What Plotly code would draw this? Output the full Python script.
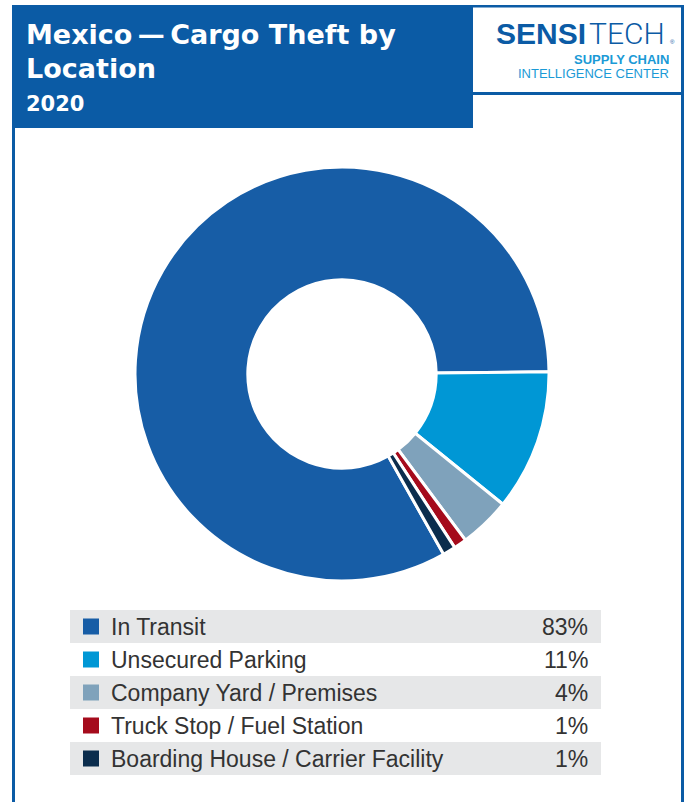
import plotly.graph_objects as go

# ---- data ----
categories = ["In Transit", "Unsecured Parking", "Company Yard / Premises",
              "Truck Stop / Fuel Station", "Boarding House / Carrier Facility"]
values = [83, 11, 4, 1, 1]
pct_labels = ["83%", "11%", "4%", "1%", "1%"]
colors = ["#175da6", "#0097d5", "#7fa2bb", "#a50b1c", "#0b2d4d"]

W, H = 688, 802
BLUE = "#0b5ba5"
CYAN = "#1b9ad6"


def px(x):
    return x / W


def py(y):
    return 1 - y / H


# donut geometry (pixels)
cx, cy, R = 342, 374, 207

fig = go.Figure()
fig.add_trace(go.Pie(
    labels=categories, values=values, sort=False, direction="clockwise",
    rotation=150.6, hole=0.455,
    marker=dict(colors=colors, line=dict(color="white", width=3)),
    textinfo="none", showlegend=False,
    domain=dict(x=[px(cx - R), px(cx + R)], y=[py(cy + R), py(cy - R)]),
))

shapes = []


def rect(x0, y0, x1, y1, color, layer="above"):
    shapes.append(dict(type="rect", xref="paper", yref="paper", x0=px(x0), x1=px(x1),
                       y0=py(y1), y1=py(y0), fillcolor=color, line=dict(width=0), layer=layer))


# title box and frame
rect(12, 5, 473, 128, BLUE, "below")
rect(12, 5, 15, 802, BLUE)
rect(681, 5, 684, 802, BLUE)
rect(473, 5, 684, 7.5, BLUE)
rect(473, 92, 684, 95, BLUE)

annotations = []


def text(x, y, s, size, color, anchor="left", family="Liberation Sans, Arial",
         weight=None, height=None):
    f = dict(family=family, size=size, color=color)
    if weight is not None:
        f["weight"] = weight
    a = dict(xref="paper", yref="paper", x=px(x), y=py(y), xanchor=anchor,
             yanchor="middle", showarrow=False, text=s, font=f)
    if height is not None:
        a["height"] = height
    annotations.append(a)


# title texts
TF = "DejaVu Sans"
text(24, 34, "<b>Mexico\u2009\u2014\u2009Cargo Theft by</b>", 27, "white", family=TF)
text(24, 68, "<b>Location</b>", 27, "white", family=TF)
text(24, 104, "<b>2020</b>", 21, "white", family=TF)

# logo
text(588, 33, "<b>SENSI</b>", 30, BLUE, anchor="right", height=26)
text(587, 33, "TECH", 30, BLUE, anchor="left", family="Roboto", weight=300, height=26)
text(668, 42, "®", 6, BLUE, anchor="left")
text(671, 59, "<b>SUPPLY CHAIN</b>", 13, CYAN, anchor="right", height=13)
text(671, 73.5, "INTELLIGENCE CENTER", 13, CYAN, anchor="right", height=13)

# legend table
row_top0, row_h = 610, 33
for i, (cat, pct, col) in enumerate(zip(categories, pct_labels, colors)):
    top = row_top0 + i * row_h
    mid = top + row_h / 2
    if i % 2 == 0:
        rect(70, top, 601, top + row_h, "#e6e7e8", "below")
    rect(83, mid - 8, 99, mid + 8, col)
    text(109, mid, cat, 23, "#333333")
    text(590, mid, pct, 23, "#333333", anchor="right")

fig.update_layout(width=W, height=H, margin=dict(l=0, r=0, t=0, b=0),
                  paper_bgcolor="white", plot_bgcolor="white",
                  shapes=shapes, annotations=annotations)
fig.write_html("out.html", config={"displayModeBar": False},
               post_script="document.body.style.margin='0';"
               "document.body.style.overflow='hidden';")
